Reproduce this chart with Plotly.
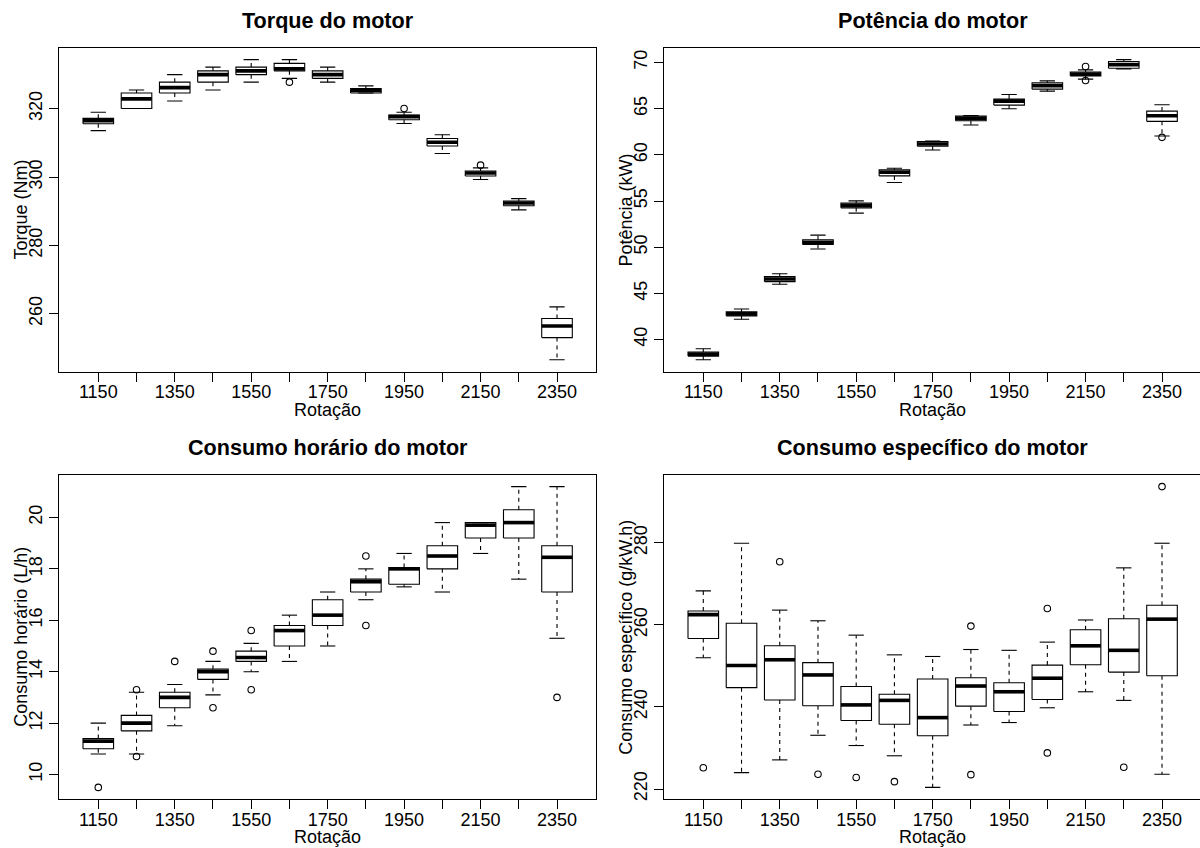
import plotly.graph_objects as go

# ---- data -------------------------------------------------------------
rotacao = [1150, 1250, 1350, 1450, 1550, 1650, 1750, 1850, 1950, 2050, 2150, 2250, 2350]
rotulos_x = ["1150", "", "1350", "", "1550", "", "1750", "", "1950", "", "2150", "", "2350"]

# Torque do motor (Nm): whisker ends, quartiles, medians, outliers
torque_inf = [313.6, 320.1, 322.3, 325.5, 327.8, 328.9, 327.8, 324.6, 315.7, 306.9, 299.3, 290.4, 246.5]
torque_q1 = [315.6, 320.1, 324.6, 327.8, 330.0, 331.1, 328.9, 324.6, 316.8, 309.1, 300.3, 291.6, 253.0]
torque_med = [316.5, 322.9, 326.2, 330.0, 331.1, 331.7, 330.0, 325.4, 317.7, 310.2, 301.2, 292.4, 256.4]
torque_q3 = [317.2, 324.6, 327.8, 331.1, 332.2, 333.3, 331.1, 325.9, 318.2, 311.3, 301.8, 293.0, 258.6]
torque_sup = [319.0, 325.5, 330.0, 332.2, 334.4, 334.4, 332.2, 326.7, 319.0, 312.4, 302.7, 293.7, 262.0]
torque_out_rot = [1650, 1950, 2150]
torque_out_val = [327.8, 320.1, 303.5]
torque_ticks = [260, 280, 300, 320]

# Potência do motor (kW)
pot_inf = [37.8, 42.2, 45.98, 49.8, 53.69, 57.0, 60.53, 63.23, 65.0, 66.9, 68.2, 69.32, 62.04]
pot_q1 = [38.2, 42.56, 46.27, 50.3, 54.26, 57.72, 60.93, 63.7, 65.39, 67.12, 68.56, 69.39, 63.63]
pot_med = [38.42, 42.78, 46.56, 50.52, 54.52, 58.12, 61.18, 63.95, 65.82, 67.48, 68.74, 69.78, 64.24]
pot_q3 = [38.64, 42.99, 46.81, 50.81, 54.77, 58.37, 61.43, 64.2, 66.04, 67.8, 68.96, 70.11, 64.74]
pot_sup = [39.0, 43.3, 47.13, 51.31, 55.02, 58.55, 61.5, 64.27, 66.54, 68.02, 69.21, 70.32, 65.43]
pot_out_rot = [2150, 2150, 2350]
pot_out_val = [69.57, 68.05, 61.9]
pot_ticks = [40, 45, 50, 55, 60, 65, 70]

# Consumo horário do motor (L/h)
hor_inf = [10.8, 10.8, 11.9, 13.1, 14.0, 14.4, 15.0, 16.8, 17.3, 17.1, 18.6, 17.6, 15.3]
hor_q1 = [11.0, 11.7, 12.6, 13.7, 14.4, 15.0, 15.8, 17.1, 17.4, 18.0, 19.2, 19.2, 17.1]
hor_med = [11.3, 12.0, 13.0, 14.0, 14.55, 15.6, 16.2, 17.5, 18.0, 18.5, 19.7, 19.8, 18.45]
hor_q3 = [11.4, 12.3, 13.2, 14.1, 14.8, 15.8, 16.8, 17.6, 18.05, 18.9, 19.8, 20.3, 18.9]
hor_sup = [12.0, 13.2, 13.5, 14.4, 15.1, 16.2, 17.1, 18.0, 18.6, 19.8, 19.8, 21.2, 21.2]
hor_out_rot = [1150, 1250, 1250, 1350, 1450, 1450, 1550, 1550, 1850, 1850, 2350]
hor_out_val = [9.5, 13.3, 10.7, 14.4, 14.8, 12.6, 15.6, 13.3, 18.5, 15.8, 13.0]
hor_ticks = [10, 12, 14, 16, 18, 20]

# Consumo específico do motor (g/kW.h)
esp_inf = [252.0, 224.0, 227.1, 233.1, 230.6, 228.1, 220.4, 235.6, 236.2, 239.8, 243.7, 241.6, 223.6]
esp_q1 = [256.7, 244.7, 241.7, 240.3, 236.7, 235.8, 233.0, 240.2, 238.9, 241.8, 250.3, 248.5, 247.6]
esp_med = [262.5, 250.1, 251.5, 247.8, 240.5, 241.6, 237.4, 245.1, 243.7, 247.0, 254.9, 253.8, 261.4]
esp_q3 = [263.4, 260.4, 254.9, 250.8, 245.0, 243.1, 246.8, 247.1, 245.9, 250.2, 258.8, 261.5, 264.8]
esp_sup = [268.3, 279.9, 263.6, 261.0, 257.5, 252.7, 252.3, 254.0, 253.8, 255.8, 261.2, 273.9, 279.9]
esp_out_rot = [1150, 1350, 1450, 1550, 1650, 1850, 1850, 2050, 2050, 2250, 2350]
esp_out_val = [225.2, 275.4, 223.6, 222.8, 221.8, 259.7, 223.5, 264.0, 228.8, 225.3, 293.7]
esp_ticks = [220, 240, 260, 280]

# ---- layout geometry (pixels) -----------------------------------------
W, H = 1200, 848
COL_L = [59.3, 664.3]
COL_R = [596.0, 1200.0]
ROW_T = [47.7, 475.7]
ROW_B = [372.7, 801.3]
UNIT = (COL_R[0] - COL_L[0]) / 14.04   # px per box slot

FONT = "Liberation Sans, Arial, Helvetica, sans-serif"
BOX_HALF = 0.4
CAP_HALF = 0.2

paineis = [
    dict(titulo="Torque do motor", ylab="Torque (Nm)",
         inf=torque_inf, q1=torque_q1, med=torque_med, q3=torque_q3, sup=torque_sup,
         out_rot=torque_out_rot, out_val=torque_out_val, ticks=torque_ticks, lin=0, col=0),
    dict(titulo="Potência do motor", ylab="Potência (kW)",
         inf=pot_inf, q1=pot_q1, med=pot_med, q3=pot_q3, sup=pot_sup,
         out_rot=pot_out_rot, out_val=pot_out_val, ticks=pot_ticks, lin=0, col=1),
    dict(titulo="Consumo horário do motor", ylab="Consumo horário (L/h)",
         inf=hor_inf, q1=hor_q1, med=hor_med, q3=hor_q3, sup=hor_sup,
         out_rot=hor_out_rot, out_val=hor_out_val, ticks=hor_ticks, lin=1, col=0),
    dict(titulo="Consumo específico do motor", ylab="Consumo específico (g/kW.h)",
         inf=esp_inf, q1=esp_q1, med=esp_med, q3=esp_q3, sup=esp_sup,
         out_rot=esp_out_rot, out_val=esp_out_val, ticks=esp_ticks, lin=1, col=1),
]

fig = go.Figure()
layout = dict(
    width=W, height=H, margin=dict(l=0, r=0, t=0, b=0),
    paper_bgcolor="white", plot_bgcolor="white", showlegend=False,
    font=dict(family=FONT, size=18, color="black"),
)
annotations = []
pos = list(range(1, len(rotacao) + 1))

for k, p in enumerate(paineis, start=1):
    sfx = "" if k == 1 else str(k)
    xa, ya = "x" + sfx, "y" + sfx
    lin, col = p["lin"], p["col"]

    # whiskers (dashed), staples, boxes and medians
    wx, wy, cx, cy = [], [], [], []
    bx, by, mx, my = [], [], [], []
    for i, x in enumerate(pos):
        wx += [x, x, None, x, x, None]
        wy += [p["q3"][i], p["sup"][i], None, p["q1"][i], p["inf"][i], None]
        cx += [x - CAP_HALF, x + CAP_HALF, None, x - CAP_HALF, x + CAP_HALF, None]
        cy += [p["sup"][i], p["sup"][i], None, p["inf"][i], p["inf"][i], None]
        bx += [x - BOX_HALF, x + BOX_HALF, x + BOX_HALF, x - BOX_HALF, x - BOX_HALF, None]
        by += [p["q1"][i], p["q1"][i], p["q3"][i], p["q3"][i], p["q1"][i], None]
        mx += [x - BOX_HALF, x + BOX_HALF, None]
        my += [p["med"][i], p["med"][i], None]

    fig.add_trace(go.Scatter(x=wx, y=wy, mode="lines", xaxis=xa, yaxis=ya,
                             line=dict(color="black", width=1.1, dash="4px,4px"),
                             hoverinfo="skip"))
    fig.add_trace(go.Scatter(x=cx, y=cy, mode="lines", xaxis=xa, yaxis=ya,
                             line=dict(color="black", width=1.1), hoverinfo="skip"))
    fig.add_trace(go.Scatter(x=bx, y=by, mode="lines", xaxis=xa, yaxis=ya,
                             line=dict(color="black", width=1.1), hoverinfo="skip"))
    fig.add_trace(go.Scatter(x=mx, y=my, mode="lines", xaxis=xa, yaxis=ya,
                             line=dict(color="black", width=3.6), hoverinfo="skip"))
    ox = [rotacao.index(r) + 1 for r in p["out_rot"]]
    fig.add_trace(go.Scatter(x=ox, y=p["out_val"], mode="markers", xaxis=xa, yaxis=ya,
                             marker=dict(symbol="circle-open", size=6.5, color="black",
                                         line=dict(width=1.1)),
                             hoverinfo="skip"))

    # y range: data extent plus 4% on each side
    lo = min(p["inf"] + p["out_val"])
    hi = max(p["sup"] + p["out_val"])
    pad = 0.04 * (hi - lo)
    yr = [lo - pad, hi + pad]

    left_px, right_px = COL_L[col], COL_R[col]
    top_px, bot_px = ROW_T[lin], ROW_B[lin]
    x_hi = -0.02 + (right_px - left_px) / UNIT

    layout["xaxis" + sfx] = dict(
        domain=[left_px / W, right_px / W], anchor=ya, range=[-0.02, x_hi],
        tickmode="array", tickvals=pos, ticktext=rotulos_x,
        ticks="outside", ticklen=9, tickwidth=1, tickcolor="black",
        ticklabelstandoff=-5,
        showline=True, linecolor="black", linewidth=1, mirror=True,
        showgrid=False, zeroline=False, fixedrange=True,
        tickfont=dict(size=18, family=FONT),
    )
    layout["yaxis" + sfx] = dict(
        domain=[1 - bot_px / H, 1 - top_px / H], anchor=xa, range=yr,
        tickmode="array", tickvals=p["ticks"],
        ticks="outside", ticklen=9, tickwidth=1, tickcolor="black",
        showline=True, linecolor="black", linewidth=1, mirror=(col == 0),
        showgrid=False, zeroline=False, fixedrange=True, tickangle=-90,
        tickfont=dict(size=18, family=FONT),
    )

    cx_px = (left_px + COL_R[0] - COL_L[0] + left_px) / 2
    annotations.append(dict(text="<b>" + p["titulo"] + "</b>", xref="paper", yref="paper",
                            x=cx_px / W, y=1 - (top_px - 27) / H, xanchor="center",
                            yanchor="middle", showarrow=False,
                            font=dict(size=21.6, family=FONT, color="black")))
    annotations.append(dict(text="Rotação", xref="paper", yref="paper",
                            x=cx_px / W, y=1 - (bot_px + 38) / H, xanchor="center",
                            yanchor="middle", showarrow=False,
                            font=dict(size=18, family=FONT, color="black")))
    annotations.append(dict(text=p["ylab"], xref="paper", yref="paper", textangle=-90,
                            x=(left_px - 38.5) / W, y=1 - (top_px + bot_px) / 2 / H,
                            xanchor="center", yanchor="middle", showarrow=False,
                            font=dict(size=18, family=FONT, color="black")))

layout["annotations"] = annotations
fig.update_layout(**layout)
fig.write_html("out.html")
